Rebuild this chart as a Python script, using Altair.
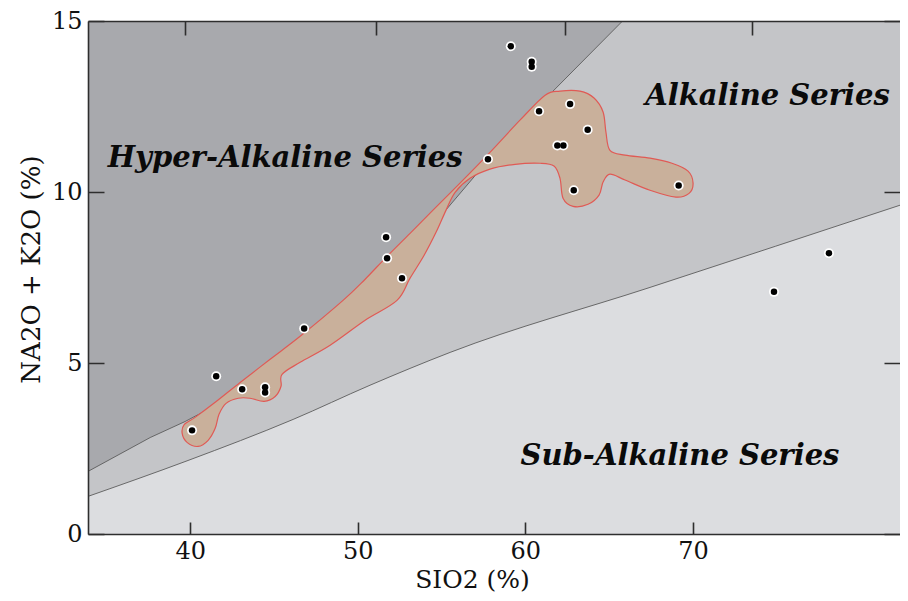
import altair as alt
import pandas as pd

# ---- sample analyses (SiO2 %, Na2O+K2O %) ----
sio2 = [40.11, 41.55, 43.10, 44.47, 44.47, 46.80, 51.69, 51.75, 52.64, 57.77,
        60.82, 59.13, 60.38, 60.38, 62.67, 63.72, 61.91, 62.27, 62.89, 69.15,
        74.84, 78.12]
alkali = [3.03, 4.61, 4.23, 4.29, 4.14, 6.01, 8.68, 8.06, 7.48, 10.96,
          12.36, 14.26, 13.81, 13.66, 12.57, 11.82, 11.36, 11.36, 10.05, 10.19,
          7.08, 8.21]

# ---- field boundaries ----
upper_sio2 = [33.9, 37.61, 39.70, 42.98, 46.56, 49.12, 52.34, 54.49, 57.89, 61.35, 65.8]
upper_alk = [1.83, 2.82, 3.29, 4.14, 5.37, 6.39, 7.77, 9.03, 10.99, 12.80, 15.0]
lower_sio2 = [33.9, 39.87, 46.14, 50.73, 55.51, 67.44, 82.4]
lower_alk = [1.10, 2.15, 3.35, 4.35, 5.31, 7.21, 9.62]

# ---- outlined group of samples ----
field_sio2 = [39.52, 39.64, 40.29, 41.49, 42.98, 44.77, 46.56, 49.12, 50.44, 51.69,
              53.12, 54.49, 56.10, 57.89, 59.68, 61.18, 62.07, 63.26, 64.10, 64.64,
              64.81, 65.05, 65.95, 67.44, 68.75, 69.71, 70.01, 69.77, 68.99, 67.44,
              65.95, 65.05, 64.64, 64.40, 63.74, 62.85, 62.25, 62.07, 61.71, 60.88,
              59.39, 57.89, 56.70, 55.81, 55.27, 54.67, 53.96, 53.12, 52.34, 50.44,
              48.35, 46.56, 45.48, 45.42, 45.07, 44.41, 43.57, 42.86, 42.14, 41.72,
              41.49, 41.07, 40.47, 39.81]
field_alk = [2.94, 3.20, 3.41, 3.85, 4.43, 5.11, 5.78, 6.83, 7.45, 8.09,
             8.79, 9.47, 10.26, 11.16, 12.10, 12.83, 12.95, 12.95, 12.75, 12.34,
             11.75, 11.22, 11.08, 10.99, 10.84, 10.61, 10.26, 9.96, 9.85, 10.05,
             10.35, 10.52, 10.29, 9.91, 9.64, 9.58, 9.82, 10.40, 10.76, 10.84,
             10.81, 10.67, 10.40, 9.99, 9.47, 8.82, 8.15, 7.48, 6.83, 6.25,
             5.52, 5.02, 4.67, 4.32, 4.02, 3.88, 3.97, 3.97, 3.82, 3.50,
             3.09, 2.74, 2.56, 2.68]

label_text = ["Hyper-Alkaline Series", "Alkaline Series", "Sub-Alkaline Series"]
label_sio2 = [45.66, 74.45, 69.23]
label_alk = [10.73, 12.54, 2.03]

x_ticks = [40, 50, 60, 70]
y_ticks = [0, 5, 10, 15]
top_ticks = [39.67, 51.07, 62.35, 73.5]

X_MIN, X_MAX = 33.9, 82.36
Y_MIN, Y_MAX = 0, 15

# ---- layout / styles ----
W, H = 812, 513
FONT = "DejaVu Serif"
DARK = "#a8a9ad"
MID = "#c4c5c8"
LIGHT = "#dcdde0"
FIELD_FILL = "#c9b09b"
FIELD_LINE = "#e05a55"
AXIS_COL = "#2e2e2e"

xs = alt.Scale(domain=[X_MIN, X_MAX], nice=False, zero=False)
ys = alt.Scale(domain=[Y_MIN, Y_MAX], nice=False, zero=False)

grid_style = dict(grid=True, gridColor=AXIS_COL, gridWidth=1.6, gridOpacity=1, zindex=1)

# main axes: labels, titles, and short inward ticks drawn as dashed grid lines
xaxis = alt.Axis(orient="bottom", values=x_ticks, ticks=False, format="d",
                 gridDash=[0, H - 12, 12, 3000], **grid_style,
                 domainColor=AXIS_COL, domainWidth=1.6,
                 labelFont=FONT, labelFontSize=24, labelColor="#111111", labelPadding=5,
                 title="SIO2 (%)", titleFont=FONT, titleFontSize=25, titleFontWeight="normal",
                 titleColor="#111111", titleX=384, titleY=53, titleAlign="center",
                 titleBaseline="alphabetic")
yaxis = alt.Axis(orient="left", values=y_ticks, ticks=False, format="d",
                 gridDash=[16, W - 32, 16, 3000], **grid_style,
                 domainColor=AXIS_COL, domainWidth=1.6,
                 labelFont=FONT, labelFontSize=24, labelColor="#111111", labelPadding=6,
                 title="NA2O + K2O (%)", titleFont=FONT, titleFontSize=26, titleFontWeight="normal",
                 titleColor="#111111", titleX=-57, titleY=248, titleAlign="center",
                 titleBaseline="middle", titleAngle=270)

# short ticks hanging from the top edge (dashed grid of a top x axis, drawn bottom -> top)
ax_top_ticks = alt.Axis(orient="top", values=top_ticks, labels=False, ticks=False, domain=True,
                        domainColor=AXIS_COL, domainWidth=1.6,
                        gridDash=[0, H - 14, 14, 3000], **grid_style, title="")


def X(field, axis=None):
    return alt.X(field, type="quantitative", scale=xs, axis=axis)


def Y(field, axis=None):
    return alt.Y(field, type="quantitative", scale=ys, axis=axis)


df_pts = pd.DataFrame({"x": sio2, "y": alkali})
df_up = pd.DataFrame({"x": upper_sio2, "y": upper_alk})
df_up_area = pd.DataFrame({"x": upper_sio2 + [X_MAX], "y": upper_alk + [Y_MAX]})
df_low = pd.DataFrame({"x": lower_sio2, "y": lower_alk})
df_field = pd.DataFrame({"x": field_sio2, "y": field_alk, "i": list(range(len(field_sio2)))})
df_lab = pd.DataFrame({"x": label_sio2, "y": label_alk, "t": label_text})
df_tt = pd.DataFrame({"x": top_ticks, "y": [Y_MAX] * len(top_ticks)})

area_mid = alt.Chart(df_up_area).mark_area(color=MID, opacity=1, interpolate="linear", clip=True).encode(
    x=X("x", xaxis), y=Y("y", yaxis), y2=alt.Y2(datum=Y_MIN))
line_up = alt.Chart(df_up).mark_line(color="#5c5c5c", strokeWidth=0.9, interpolate="linear", clip=True).encode(
    x=X("x"), y=Y("y"))
area_low = alt.Chart(df_low).mark_area(color=LIGHT, opacity=1, interpolate="monotone", clip=True).encode(
    x=X("x"), y=Y("y"), y2=alt.Y2(datum=Y_MIN))
line_low = alt.Chart(df_low).mark_line(color="#5c5c5c", strokeWidth=0.9, interpolate="monotone", clip=True).encode(
    x=X("x"), y=Y("y"))

field = alt.Chart(df_field).mark_line(interpolate="cardinal-closed", fill=FIELD_FILL, fillOpacity=1,
                                      stroke=FIELD_LINE, strokeWidth=1.2).encode(
    x=X("x"), y=Y("y"), order=alt.Order("i:Q"))

ring = alt.Chart(df_pts).mark_circle(color="white", size=100, opacity=1).encode(x=X("x"), y=Y("y"))
dot = alt.Chart(df_pts).mark_circle(color="black", size=42, opacity=1).encode(x=X("x"), y=Y("y"))

labels = alt.Chart(df_lab).mark_text(font=FONT, fontSize=29, fontStyle="italic", fontWeight="bold",
                                     color="#0a0a0a", baseline="alphabetic", align="center").encode(
    x=X("x"), y=Y("y"), text="t:N")

carrier_ticks = alt.Chart(df_tt).mark_point(opacity=0).encode(x=X("x", ax_top_ticks), y=Y("y"))

chart = alt.layer(
    area_mid, line_up, area_low, line_low, field, ring, dot, labels, carrier_ticks
).resolve_axis(x="independent", y="independent").properties(
    width=W, height=H,
    padding={"left": 80, "top": 13, "right": 0, "bottom": 59},
    autosize=alt.AutoSizeParams(type="none"),
    background="white",
).configure_view(fill=DARK, stroke="transparent")

chart.save("out.html", embed_options={"renderer": "svg", "actions": False})
